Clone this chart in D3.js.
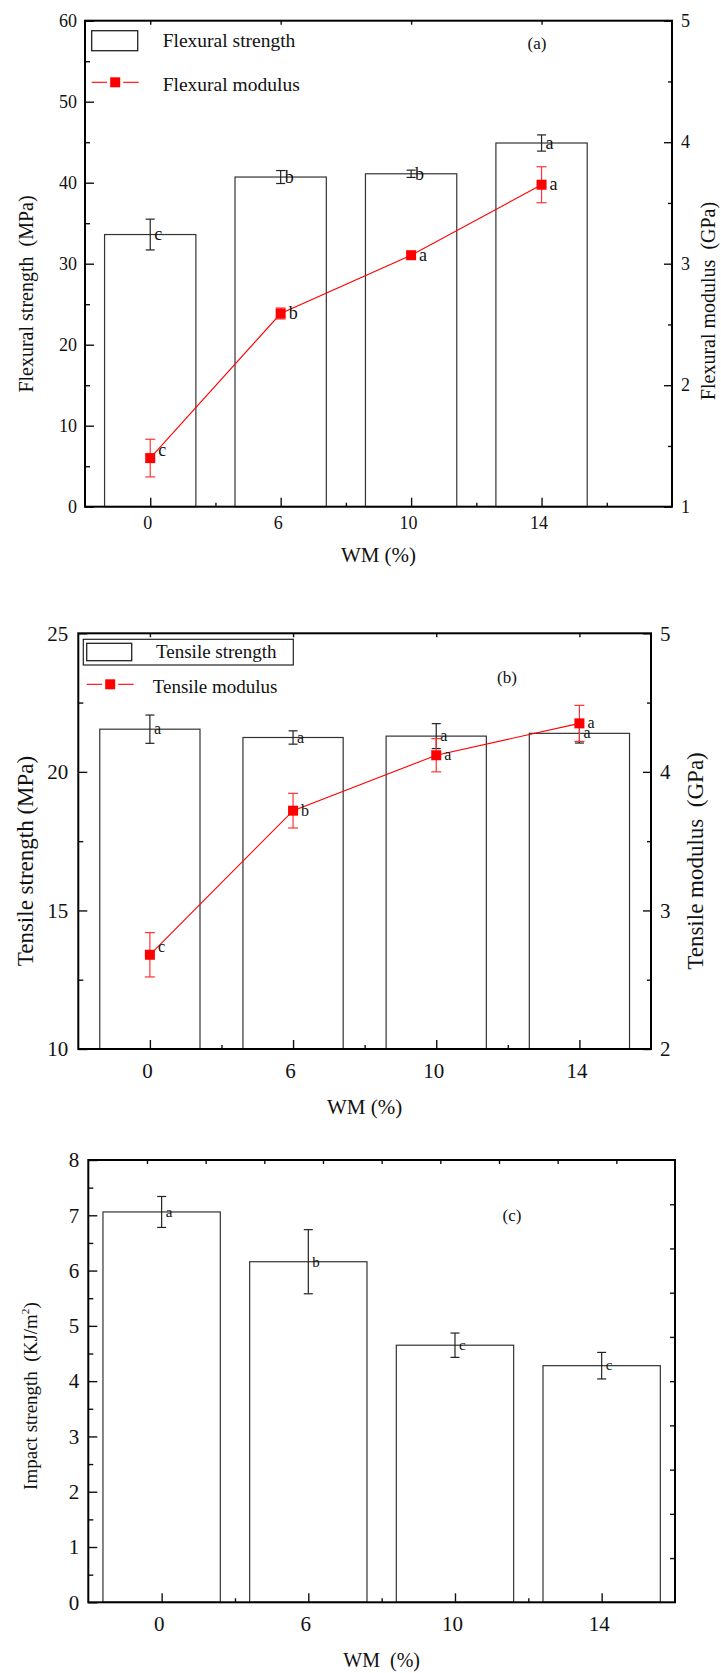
<!DOCTYPE html>
<html lang="en">
<head>
<meta charset="UTF-8" />
<title>WM mechanical properties</title>
<script src="https://d3js.org/d3.v7.min.js"></script>
<style>
  body { margin: 0; background: #fff; }
  svg text { font-family: "Liberation Serif", "Times New Roman", serif; fill: #111; white-space: pre; }
</style>
</head>
<body>
<svg id="chart" width="721" height="1673"></svg>
<script>
// x categories
const wmLevels = ["0", "6", "10", "14"];

// (a) flexural
const flexStrength = [33.6, 40.7, 41.1, 44.9];
const flexStrengthErr = [1.9, 0.8, 0.45, 1.0];
const flexStrengthGroups = ["c", "b", "b", "a"];
const flexModulus = [1.40, 2.59, 3.07, 3.65];
const flexModulusErr = [0.155, 0.045, 0.02, 0.148];
const flexModulusGroups = ["c", "b", "a", "a"];

// (b) tensile
const tenStrength = [21.54, 21.24, 21.29, 21.39];
const tenStrengthErr = [0.51, 0.24, 0.45, 0.35];
const tenStrengthGroups = ["a", "a", "a", "a"];
const tenModulus = [2.68, 3.72, 4.12, 4.35];
const tenModulusErr = [0.16, 0.125, 0.12, 0.13];
const tenModulusGroups = ["c", "b", "a", "a"];

// (c) impact
const impStrength = [7.06, 6.16, 4.65, 4.28];
const impStrengthErr = [0.28, 0.58, 0.22, 0.24];
const impStrengthGroups = ["a", "b", "c", "c"];

const svg = d3.select("#chart");
const RED = "#ff0000";

function errorBars(g, x, y, vals, errs, color, cap) {
  const eb = g.append("g").attr("stroke", color).attr("stroke-width", 1.2);
  vals.forEach((v, i) => {
    const cx = x(i), y1 = y(v + errs[i]), y2 = y(v - errs[i]);
    eb.append("line").attr("x1", cx).attr("x2", cx).attr("y1", y1).attr("y2", y2);
    eb.append("line").attr("x1", cx - cap / 2).attr("x2", cx + cap / 2).attr("y1", y1).attr("y2", y1);
    eb.append("line").attr("x1", cx - cap / 2).attr("x2", cx + cap / 2).attr("y1", y2).attr("y2", y2);
  });
}

function styleAxis(sel, fontSize) {
  sel.select(".domain").remove();
  sel.selectAll(".tick line").attr("stroke", "#111").attr("stroke-width", 1.4);
  sel.selectAll(".tick text").attr("font-size", fontSize).attr("fill", "#111")
    .style("font-family", '"Liberation Serif", "Times New Roman", serif');
}

function drawPanel(p) {
  const g = svg.append("g");
  const x = d3.scaleLinear().domain(p.xDomain).range([p.left, p.right]);
  const y = d3.scaleLinear().domain(p.yDomain).range([p.bottom, p.top]);
  const idx = d3.range(wmLevels.length);
  const bw = (x(1) - x(0)) * p.barRatio;

  g.selectAll("rect.bar").data(p.bars).join("rect").attr("class", "bar")
    .attr("x", (d, i) => x(i) - bw / 2)
    .attr("y", d => y(d))
    .attr("width", bw)
    .attr("height", d => p.bottom - y(d))
    .attr("fill", "#fff").attr("stroke", "#333").attr("stroke-width", 1.2);

  errorBars(g, x, y, p.bars, p.barErr, "#222", 9);

  g.selectAll("text.barg").data(p.barGroups).join("text").attr("class", "barg")
    .attr("x", (d, i) => x(i) + 4)
    .attr("y", (d, i) => y(p.bars[i]))
    .attr("dy", "0.32em")
    .attr("font-size", p.letterSize)
    .text(d => d);

  let yR = null;
  if (p.line) {
    yR = d3.scaleLinear().domain(p.yRDomain).range([p.bottom, p.top]);
    const line = d3.line().x((d, i) => x(i)).y(d => yR(d));
    g.append("path").datum(p.line).attr("d", line)
      .attr("fill", "none").attr("stroke", RED).attr("stroke-width", 1.1);
    errorBars(g, x, yR, p.line, p.lineErr, "#f33", 10);
    g.selectAll("rect.pt").data(p.line).join("rect").attr("class", "pt")
      .attr("x", (d, i) => x(i) - 5).attr("y", d => yR(d) - 5)
      .attr("width", 10).attr("height", 10).attr("fill", RED);
    g.selectAll("text.lineg").data(p.lineGroups).join("text").attr("class", "lineg")
      .attr("x", (d, i) => x(i) + 8)
      .attr("y", (d, i) => yR(p.line[i]) - (i === 0 ? 8 : 0))
      .attr("dy", "0.32em")
      .attr("font-size", p.letterSize)
      .text(d => d);
  }

  // axes
  const left = g.append("g").attr("transform", `translate(${p.left},0)`)
    .call(d3.axisLeft(y).tickValues(p.yTicks).tickSize(-9).tickPadding(p.padL).tickFormat(d3.format("d")));
  styleAxis(left, p.tickFont);
  const leftMinor = g.append("g").attr("transform", `translate(${p.left},0)`)
    .call(d3.axisLeft(y).tickValues(p.yMinor).tickSize(-5).tickFormat(""));
  styleAxis(leftMinor, p.tickFont);

  const bottom = g.append("g").attr("transform", `translate(0,${p.bottom})`)
    .call(d3.axisBottom(x).tickValues(idx).tickSize(-9).tickPadding(p.padB).tickFormat(i => wmLevels[i]));
  styleAxis(bottom, p.tickFont);
  bottom.selectAll(".tick text").attr("dx", -3);
  const bottomMinor = g.append("g").attr("transform", `translate(0,${p.bottom})`)
    .call(d3.axisBottom(x).tickValues(idx.map(i => i + 0.5).filter(v => v < p.xDomain[1])).tickSize(-4).tickFormat(""));
  styleAxis(bottomMinor, p.tickFont);

  if (yR) {
    const right = g.append("g").attr("transform", `translate(${p.right},0)`)
      .call(d3.axisRight(yR).tickValues(p.yRTicks).tickSize(-8).tickPadding(p.padR).tickFormat(d3.format("d")));
    styleAxis(right, p.tickFont);
    const rightMinor = g.append("g").attr("transform", `translate(${p.right},0)`)
      .call(d3.axisRight(yR).tickValues(p.yRMinor).tickSize(-4).tickFormat(""));
    styleAxis(rightMinor, p.tickFont);
    const top = g.append("g").attr("transform", `translate(0,${p.top})`)
      .call(d3.axisTop(x).tickValues(idx).tickSize(-4).tickFormat(""));
    styleAxis(top, p.tickFont);
  } else {
    const r10 = d3.scaleLinear().domain([0, 10]).range([p.bottom, p.top]);
    const right = g.append("g").attr("transform", `translate(${p.right},0)`)
      .call(d3.axisRight(r10).tickValues(d3.range(1, 10)).tickSize(-5).tickFormat(""));
    styleAxis(right, p.tickFont);
    const t10 = d3.scaleLinear().domain([0, 10]).range([p.left, p.right]);
    const top = g.append("g").attr("transform", `translate(0,${p.top})`)
      .call(d3.axisTop(t10).tickValues(d3.range(1, 10)).tickSize(-4).tickFormat(""));
    styleAxis(top, p.tickFont);
  }

  // frame
  g.append("rect").attr("x", p.left).attr("y", p.top)
    .attr("width", p.right - p.left).attr("height", p.bottom - p.top)
    .attr("fill", "none").attr("stroke", "#000").attr("stroke-width", 2);

  // axis titles
  g.append("text").attr("x", (p.left + p.right) / 2).attr("y", p.xTitleY)
    .attr("text-anchor", "middle").attr("dy", "0.35em").attr("font-size", p.xTitleSize).text(p.xTitle);
  const yl = g.append("text")
    .attr("transform", `translate(${p.yTitlePos[0]},${p.yTitlePos[1]}) rotate(-90)`)
    .attr("text-anchor", "middle").attr("dy", "0.35em").attr("font-size", p.yTitleSize);
  yl.text(p.yTitle);
  if (p.yTitleSup) {
    yl.append("tspan").attr("font-size", p.yTitleSize * 0.6).attr("dy", "-0.7em").text(p.yTitleSup);
    yl.append("tspan").attr("dy", "0.42em").text(")");
  }
  if (p.yRTitle) {
    g.append("text")
      .attr("transform", `translate(${p.yRTitlePos[0]},${p.yRTitlePos[1]}) rotate(-90)`)
      .attr("text-anchor", "middle").attr("dy", "0.35em").attr("font-size", p.yTitleSize).text(p.yRTitle);
  }
  g.append("text").attr("x", p.tag[0]).attr("y", p.tag[1]).attr("text-anchor", "middle")
    .attr("dy", "0.35em").attr("font-size", 17).text(p.tagText);
  return g;
}

function legend(g, box, barLabel, lineLabel, o) {
  if (o.border) {
    g.append("rect").attr("x", o.border[0]).attr("y", o.border[1]).attr("width", o.border[2]).attr("height", o.border[3])
      .attr("fill", "none").attr("stroke", "#222").attr("stroke-width", 1.2);
  }
  g.append("rect").attr("x", box[0]).attr("y", box[1]).attr("width", box[2]).attr("height", box[3])
    .attr("fill", "#fff").attr("stroke", "#222").attr("stroke-width", 1.3);
  g.append("text").attr("x", o.textX).attr("y", box[1] + box[3] / 2).attr("dy", "0.33em")
    .attr("font-size", o.size).text(barLabel);
  const ly = o.lineY, cx = box[0] + o.lineW / 2;
  g.append("line").attr("x1", box[0]).attr("x2", cx - 8).attr("y1", ly).attr("y2", ly).attr("stroke", RED).attr("stroke-width", 1.1);
  g.append("line").attr("x1", cx + 8).attr("x2", box[0] + o.lineW).attr("y1", ly).attr("y2", ly).attr("stroke", RED).attr("stroke-width", 1.1);
  g.append("rect").attr("x", cx - 5).attr("y", ly - 5).attr("width", 10).attr("height", 10).attr("fill", RED);
  g.append("text").attr("x", o.textX2).attr("y", ly + 2).attr("dy", "0.33em")
    .attr("font-size", o.size).text(lineLabel);
}

// (a)
const ga = drawPanel({
  left: 85, right: 672, top: 20.7, bottom: 506.7,
  xDomain: [-0.5, 4], yDomain: [0, 60], yRDomain: [1, 5], barRatio: 0.7,
  bars: flexStrength, barErr: flexStrengthErr, barGroups: flexStrengthGroups,
  line: flexModulus, lineErr: flexModulusErr, lineGroups: flexModulusGroups,
  yTicks: d3.range(0, 61, 10), yMinor: d3.range(5, 60, 10),
  yRTicks: [1, 2, 3, 4, 5], yRMinor: [1.5, 2.5, 3.5, 4.5],
  tickFont: 18, padL: 8, padR: 9, padB: 10, letterSize: 18,
  xTitle: "WM (%)", xTitleY: 555, xTitleSize: 21,
  yTitle: "Flexural strength  (MPa)", yTitlePos: [26, 294], yTitleSize: 20,
  yRTitle: "Flexural modulus  (GPa)", yRTitlePos: [708, 301],
  tag: [537, 43], tagText: "(a)"
});
legend(ga, [91.7, 30.7, 46, 20], "Flexural strength", "Flexural modulus",
  { textX: 162.7, textX2: 162.7, lineY: 82.3, lineW: 47, size: 19.5 });

// (b)
const gb = drawPanel({
  left: 78.3, right: 651, top: 633.3, bottom: 1049,
  xDomain: [-0.5, 3.5], yDomain: [10, 25], yRDomain: [2, 5], barRatio: 0.7,
  bars: tenStrength, barErr: tenStrengthErr, barGroups: tenStrengthGroups,
  line: tenModulus, lineErr: tenModulusErr, lineGroups: tenModulusGroups,
  yTicks: [10, 15, 20, 25], yMinor: [12.5, 17.5, 22.5],
  yRTicks: [2, 3, 4, 5], yRMinor: [2.5, 3.5, 4.5],
  tickFont: 21, padL: 10, padR: 9, padB: 14, letterSize: 16,
  xTitle: "WM (%)", xTitleY: 1107, xTitleSize: 21,
  yTitle: "Tensile strength (MPa)", yTitlePos: [25, 861], yTitleSize: 23,
  yRTitle: "Tensile modulus  (GPa)", yRTitlePos: [695, 861],
  tag: [507, 677], tagText: "(b)"
});
legend(gb, [86.7, 643.3, 45, 17.4], "Tensile strength", "Tensile modulus",
  { border: [83.3, 639.3, 210, 25.7], textX: 156, textX2: 152.7, lineY: 684.3, lineW: 47, size: 19 });

// (c)
drawPanel({
  left: 88.3, right: 675, top: 1160, bottom: 1602.3,
  xDomain: [-0.5, 3.5], yDomain: [0, 8], barRatio: 0.8,
  bars: impStrength, barErr: impStrengthErr, barGroups: impStrengthGroups,
  yTicks: d3.range(0, 9), yMinor: d3.range(0.5, 8, 1),
  tickFont: 21, padL: 9, padB: 14, letterSize: 15,
  xTitle: "WM  (%)", xTitleY: 1660, xTitleSize: 20,
  yTitle: "Impact strength  (KJ/m", yTitleSup: "2", yTitlePos: [30, 1396], yTitleSize: 19,
  tag: [512, 1215], tagText: "(c)"
});
</script>
</body>
</html>
